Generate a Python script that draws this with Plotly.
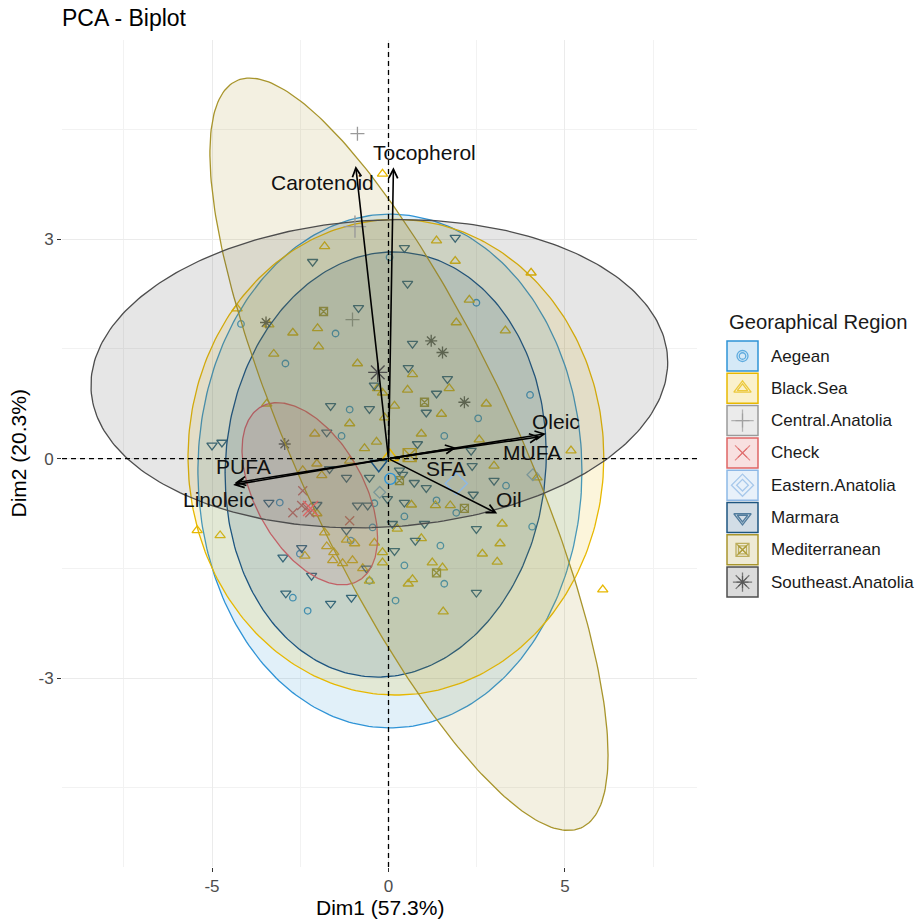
import numpy as np
import plotly.graph_objects as go

# ---------------- data ----------------
groups = ["Aegean", "Black.Sea", "Central.Anatolia", "Check",
          "Eastern.Anatolia", "Marmara", "Mediterranean", "Southeast.Anatolia"]

aegean_x = [0.03, -4.18, -1.50, -2.92, 2.49, 4.01, -1.10, -1.33, 1.58, 2.54, -3.08, -0.40, 1.36, 1.92,
            3.33, 0.45, -0.45, 4.07, -1.07, 1.47, -2.51, 0.45, 1.58, -2.71, -2.29, 0.20, -0.54]
aegean_y = [2.75, 1.84, 1.71, 1.30, 2.13, 0.87, 0.67, 0.31, 0.31, 0.55, -0.60, -0.61, -0.57, -0.74,
            -0.37, -0.79, -0.94, -0.93, -1.12, -1.19, -1.30, -1.46, -1.71, -1.90, -2.08, -1.94, -1.67]

blacksea_x = [-0.17, -1.81, 1.36, 1.89, 4.04, -4.29, -3.39, -2.71, -2.01, -1.98, -3.25, -0.88, -0.31, 1.92,
              2.29, 3.31, 0.68, 1.72, 0.54, -3.45, 1.50, 2.77, 0.17, -1.10, -0.11, -2.09, -0.34, -0.68,
              0.93, 2.57, 5.17, -1.10, -2.03, -2.43, -1.89, 2.99, 4.21, -2.03, 0.65, 1.33, 1.75, 0.25,
              3.22, -5.42, -4.77, -1.81, -1.19, -0.96, -0.40, 0.93, -2.37, -1.75, -1.55, -1.58, -1.30,
              -1.02, -0.17, -0.17, -0.73, 3.16, 2.66, 3.08, 1.24, 1.53, 0.56, 0.68, -0.54, 1.55, 6.07, -0.17]
blacksea_y = [3.89, 2.90, 2.98, 2.70, 2.54, 2.05, 1.83, 1.72, 1.78, 1.53, 1.43, 1.30, 0.96, 1.86,
              2.17, 1.75, 1.15, 0.96, 0.94, 0.75, 0.61, 0.75, 0.72, 0.48, 0.56, 0.34, 0.23, 0.14,
              0.34, 0.26, 0.11, -0.03, -0.07, -0.16, -0.23, -0.10, -0.26, -0.75, -0.63, -0.64, -0.64, -0.96,
              -0.89, -0.98, -1.05, -1.01, -1.11, -1.16, -1.15, -1.09, -1.33, -1.20, -1.28, -1.39, -1.43,
              -1.39, -1.28, -1.42, -1.50, -1.16, -1.30, -1.41, -1.42, -1.49, -1.71, -1.65, -1.67, -2.09, -1.79, 0.90]

central_x = [-0.88, -1.02]
central_y = [4.44, 1.90]

check_x = [-2.43, -2.46, -2.71, -2.23, -1.10, -2.32]
check_y = [-0.44, -0.64, -0.74, -0.74, -0.85, -0.67]

eastern_x = [-0.25, 4.09]
eastern_y = [-0.46, -0.22]

marmara_x = [1.89, 0.45, -2.15, 0.54, -0.85, 0.68, 0.56, 1.67, -0.40, 1.36, -1.64, -0.54, 1.07, -1.75,
             0.82, -5.00, -4.72, 2.34, -1.67, 0.31, -1.19, -0.54, 0.40, 0.73, 1.07, 2.37, 2.99, -0.03,
             -0.88, -0.59, -3.39, -2.03, 0.45, 2.40, 0.11, 1.02, 2.49, -1.19, 0.76, -2.46, -2.99, 0.17,
             -0.62, -2.18, -2.91, -1.64, -1.05, 2.49]
marmara_y = [3.02, 2.88, 2.69, 2.39, 2.06, 1.57, 1.24, 1.09, 1.00, 0.89, 0.72, 0.68, 0.63, 0.36,
             0.20, 0.18, 0.22, 0.11, -0.14, -0.16, -0.26, -0.26, -0.22, -0.33, -0.40, -0.10, -0.30, -0.55,
             -0.64, -0.64, -0.60, -0.63, -0.60, -0.49, -0.89, -0.89, -0.96, -0.98, -1.12, -1.22, -1.35, -1.26,
             -1.50, -1.60, -1.84, -1.98, -1.90, -1.83]

medit_x = [-1.84, 1.02, 0.31, 2.15, 1.36]
medit_y = [2.01, 0.77, -0.30, -0.68, -1.56]

southeast_x = [-3.47, 1.21, 1.53, 2.15, -2.94]
southeast_y = [1.86, 1.61, 1.45, 0.77, 0.20]

# confidence ellipses: centre, sd x, sd y, correlation
ell_groups = ["Aegean", "Black.Sea", "Check", "Marmara", "Mediterranean", "Southeast.Anatolia"]
ell_cx = [0.04, 0.21, -2.23, -0.08, 0.58, -0.26]
ell_cy = [-0.17, 0.02, -0.48, -0.08, 0.06, 1.16]
ell_sx = [5.44, 5.89, 1.92, 4.55, 5.64, 8.17]
ell_sy = [3.51, 3.25, 1.245, 2.905, 5.14, 2.106]
ell_r = [0.0, 0.0, -0.48, 0.05, -0.80, 0.075]

# variables (arrows)
var_names = ["Carotenoid", "Tocopherol", "Oleic", "MUFA", "SFA", "Oil", "PUFA", "Linoleic"]
var_x = [-0.93, 0.14, 4.46, 4.30, 1.92, 3.08, -4.35, -4.40]
var_y = [4.00, 3.98, 0.34, 0.30, 0.15, -0.75, -0.33, -0.36]
lab_dx = [-33, 31, 10, -8, -10, 12, 9, -15]
lab_dy = [-17, 15, 12, -16, -21, 14, 16, -15]

x_ticks = [-5, 0, 5]
x_ticklabels = ["-5", "0", "5"]
y_ticks = [-3, 0, 3]
y_ticklabels = ["-3", "0", "3"]

# ---------------- styles ----------------
pts = {
    "Aegean": (aegean_x, aegean_y),
    "Black.Sea": (blacksea_x, blacksea_y),
    "Central.Anatolia": (central_x, central_y),
    "Check": (check_x, check_y),
    "Eastern.Anatolia": (eastern_x, eastern_y),
    "Marmara": (marmara_x, marmara_y),
    "Mediterranean": (medit_x, medit_y),
    "Southeast.Anatolia": (southeast_x, southeast_y),
}
col = {
    "Aegean": "#2E93D6", "Black.Sea": "#E7B800", "Central.Anatolia": "#9A9A9A",
    "Check": "#DE6464", "Eastern.Anatolia": "#8DB8E6", "Marmara": "#1D5580",
    "Mediterranean": "#A8952C", "Southeast.Anatolia": "#4D4D4D",
}
sym = {
    "Aegean": "circle-open", "Black.Sea": "triangle-up-open", "Central.Anatolia": "cross-thin-open",
    "Check": "x-thin-open", "Eastern.Anatolia": "diamond-open", "Marmara": "triangle-down-open",
    "Mediterranean": "square-x-open", "Southeast.Anatolia": "asterisk-open",
}
size = {"Aegean": 6.5, "Black.Sea": 9, "Central.Anatolia": 10, "Check": 9,
        "Eastern.Anatolia": 9, "Marmara": 9, "Mediterranean": 8, "Southeast.Anatolia": 10}
msize = {"Aegean": 11, "Black.Sea": 15, "Central.Anatolia": 16, "Check": 15,
         "Eastern.Anatolia": 17, "Marmara": 15, "Mediterranean": 13, "Southeast.Anatolia": 16}


def rgba(h, a):
    h = h.lstrip("#")
    return "rgba(%d,%d,%d,%.3f)" % (int(h[0:2], 16), int(h[2:4], 16), int(h[4:6], 16), a)


FONT = "Liberation Sans, Arial, sans-serif"
W, H = 916, 922
ML, MR, MT, MB = 62, 3, 40, 55
PW = W - ML - MR
PH = H - MT - MB
main_dom = (697 - ML) / PW
leg_dom0 = main_dom + 0.002

fig = go.Figure()

# individual points
for g in groups:
    x, y = pts[g]
    fig.add_trace(go.Scatter(
        x=x, y=y, mode="markers", showlegend=False, hoverinfo="skip",
        marker=dict(symbol=sym[g], size=size[g], color=col[g],
                    line=dict(color=col[g], width=1.3))))

# ellipses
t = np.linspace(0, 2 * np.pi, 300)
for g, cx, cy, sx, sy, r in zip(ell_groups, ell_cx, ell_cy, ell_sx, ell_sy, ell_r):
    ex = cx + sx * np.cos(t)
    ey = cy + sy * (r * np.cos(t) + np.sqrt(1 - r * r) * np.sin(t))
    fig.add_trace(go.Scatter(
        x=ex, y=ey, mode="lines", fill="toself", showlegend=False, hoverinfo="skip",
        fillcolor=rgba(col[g], 0.14), line=dict(color=col[g], width=1.3)))

# group mean points
for g in groups:
    x, y = pts[g]
    fig.add_trace(go.Scatter(
        x=[float(np.mean(x))], y=[float(np.mean(y))], mode="markers", showlegend=False,
        hoverinfo="skip",
        marker=dict(symbol=sym[g], size=msize[g], color=col[g],
                    line=dict(color=col[g], width=1.4))))

# ---------------- custom legend (pixel axes) ----------------
lx0 = ML + leg_dom0 * PW
lx1 = ML + 1.0 * PW
shapes = []
annotations = []
pitch = 32.3
for i, g in enumerate(groups):
    y0 = 341 + pitch * i
    shapes.append(dict(type="rect", xref="x2", yref="y2", x0=727, x1=758, y0=y0, y1=y0 + 30,
                       fillcolor=rgba(col[g], 0.2), line=dict(color=col[g], width=1.5)))
    yc = y0 + 15
    fig.add_trace(go.Scatter(
        x=[742.5, 742.5], y=[yc, yc], xaxis="x2", yaxis="y2", mode="markers",
        showlegend=False, hoverinfo="skip",
        marker=dict(symbol=sym[g], size=[msize[g], size[g]], color=col[g],
                    line=dict(color=col[g], width=1.3))))
    annotations.append(dict(xref="x2", yref="y2", x=769, y=yc, text=g, showarrow=False,
                            xanchor="left", yanchor="middle",
                            font=dict(family=FONT, size=17, color="#1a1a1a")))
annotations.append(dict(xref="x2", yref="y2", x=727, y=322, text="Georaphical Region",
                        showarrow=False, xanchor="left", yanchor="middle",
                        font=dict(family=FONT, size=20.2, color="#1a1a1a")))

# zero lines
shapes.append(dict(type="line", xref="x", yref="y domain", x0=0, x1=0, y0=0, y1=1,
                   line=dict(color="black", width=1.3, dash="5px,4px"), layer="above"))
shapes.append(dict(type="line", xref="x domain", yref="y", x0=0, x1=1, y0=0, y1=0,
                   line=dict(color="black", width=1.3, dash="5px,4px"), layer="above"))

# variable arrows and labels
for n, vx, vy, dx, dy in zip(var_names, var_x, var_y, lab_dx, lab_dy):
    annotations.append(dict(x=vx, y=vy, ax=0, ay=0, xref="x", yref="y", axref="x", ayref="y",
                            text="", showarrow=True, arrowhead=5, arrowsize=1.1,
                            arrowwidth=1.6, arrowcolor="black", standoff=0, startstandoff=0))
for n, vx, vy, dx, dy in zip(var_names, var_x, var_y, lab_dx, lab_dy):
    annotations.append(dict(x=vx, y=vy, xref="x", yref="y", text=n, showarrow=False,
                            xshift=dx, yshift=dy, xanchor="center", yanchor="middle",
                            font=dict(family=FONT, size=21, color="#111111")))

# axis titles
annotations.append(dict(xref="paper", yref="paper", x=main_dom / 2, y=(867 - 908) / PH,
                        text="Dim1 (57.3%)", showarrow=False, xanchor="center", yanchor="middle",
                        font=dict(family=FONT, size=21, color="black")))
annotations.append(dict(xref="paper", yref="paper", x=(18 - ML) / PW, y=0.5,
                        text="Dim2 (20.3%)", showarrow=False, textangle=-90,
                        xanchor="center", yanchor="middle",
                        font=dict(family=FONT, size=21, color="black")))

fig.update_layout(
    width=W, height=H,
    margin=dict(l=ML, r=MR, t=MT, b=MB, pad=0),
    paper_bgcolor="white", plot_bgcolor="white",
    showlegend=False,
    title=dict(text="PCA - Biplot", x=ML / W, xanchor="left", xref="container",
               y=1 - 18 / H, yanchor="middle", yref="container",
               font=dict(family=FONT, size=23, color="black")),
    xaxis=dict(domain=[0, main_dom], range=[-9.25, 8.74], tickvals=x_ticks, ticktext=x_ticklabels,
               ticks="outside", ticklen=4, tickwidth=1.2, tickcolor="#333333",
               tickfont=dict(family=FONT, size=17, color="#4d4d4d"),
               showgrid=True, gridcolor="#ebebeb", gridwidth=1.2, zeroline=False, showline=False,
               minor=dict(dtick=2.5, tick0=0, showgrid=True, gridcolor="#f2f2f2", gridwidth=0.8),
               fixedrange=True),
    yaxis=dict(domain=[0, 1], range=[-5.58, 5.72], tickvals=y_ticks, ticktext=y_ticklabels,
               ticks="outside", ticklen=4, tickwidth=1.2, tickcolor="#333333",
               tickfont=dict(family=FONT, size=17, color="#4d4d4d"),
               showgrid=True, gridcolor="#ebebeb", gridwidth=1.2, zeroline=False, showline=False,
               minor=dict(dtick=1.5, tick0=0, showgrid=True, gridcolor="#f2f2f2", gridwidth=0.8),
               fixedrange=True),
    xaxis2=dict(domain=[leg_dom0, 1], range=[lx0, lx1], visible=False, anchor="y2",
                fixedrange=True),
    yaxis2=dict(domain=[0, 1], range=[MT + PH, MT], visible=False, anchor="x2",
                fixedrange=True),
    shapes=shapes,
    annotations=annotations,
)

fig.write_html("out.html", config={"displayModeBar": False},
               post_script="document.body.style.margin='0';document.body.style.overflow='hidden';")
